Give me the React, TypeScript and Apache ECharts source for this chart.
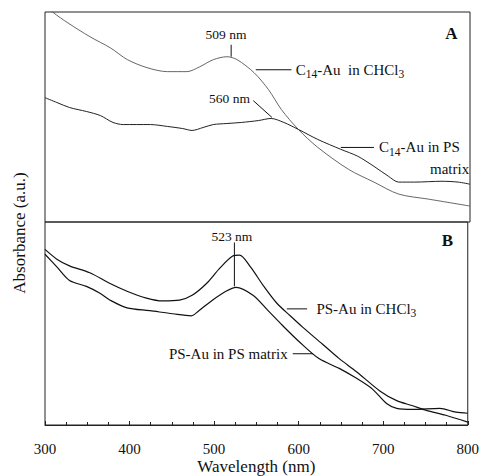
import React, { useEffect, useRef } from "react";
import * as echarts from "echarts";

// Panel A: C14-Au in CHCl3
const wlA1 = [300, 309, 327, 353, 377, 397, 420, 444, 467, 482, 498, 514, 526, 546, 563, 578, 598, 621, 657, 687, 716, 751, 800];
const absA1 = [104, 100, 94.8, 88.2, 82.9, 77.3, 73.5, 71.6, 71.6, 73.9, 77.3, 78.7, 77.3, 71.1, 63.0, 53.6, 44.1, 35.5, 25.1, 19.0, 13.3, 10.9, 7.6];
// Panel A: C14-Au in PS matrix
const wlA2 = [300, 314, 329, 349, 365, 380, 392, 424, 444, 462, 473, 486, 498, 514, 531, 551, 566, 581, 598, 621, 648, 668, 687, 704, 716, 735, 767, 786, 800];
const absA2 = [59.2, 56.9, 54.5, 52.6, 50.7, 47.4, 46.4, 46.4, 45.5, 44.5, 43.6, 45.0, 46.4, 46.9, 47.4, 48.3, 49.3, 47.4, 44.1, 39.3, 34.6, 31.3, 26.5, 21.8, 19.0, 19.0, 19.4, 19.0, 18.0];
// Panel B: PS-Au in CHCl3
const wlB1 = [300, 314, 329, 353, 377, 397, 420, 439, 459, 474, 491, 506, 522, 530, 543, 558, 574, 590, 605, 628, 648, 668, 696, 716, 734, 751, 774, 800];
const absB1 = [86.5, 81.7, 78.4, 75.0, 69.7, 65.9, 62.5, 61.1, 61.5, 63.9, 69.7, 76.9, 83.2, 83.7, 77.9, 68.8, 60.1, 53.8, 48.1, 39.9, 32.7, 26.4, 16.8, 12.0, 9.6, 7.2, 4.8, 1.4];
// Panel B: PS-Au in PS matrix
const wlB2 = [300, 314, 329, 349, 365, 377, 397, 424, 451, 473, 482, 498, 514, 526, 546, 563, 581, 601, 624, 648, 668, 687, 704, 716, 735, 767, 786, 800];
const absB2 = [84.1, 77.9, 71.2, 68.3, 64.9, 61.5, 57.7, 56.3, 54.8, 53.8, 56.3, 61.5, 65.9, 67.8, 63.9, 56.7, 49.0, 40.9, 32.7, 27.9, 23.1, 17.8, 10.6, 8.2, 7.7, 8.2, 6.3, 5.8];

const xTicks = [300, 400, 500, 600, 700, 800];

const FONT = "'Liberation Serif', 'DejaVu Serif', serif";

const zip = (xs: number[], ys: number[]) => xs.map((x, i) => [x, ys[i]]);

export default function App() {
  const ref = useRef<HTMLDivElement>(null);
  useEffect(() => {
    if (!ref.current) return;
    const chart = echarts.init(ref.current, undefined, { renderer: "svg" });
    const yAxisBase = { type: "value", min: 0, max: 100, show: false };
    const xBase = {
      type: "value",
      min: xTicks[0],
      max: xTicks[xTicks.length - 1],
      interval: 100,
      splitLine: { show: false },
    };
    const lineBase = {
      type: "line",
      showSymbol: false,
      smooth: 0.3,
      clip: true,
    };
    chart.setOption({
      animation: false,
      grid: [
        { left: 45, right: 12, top: 12, height: 210, show: true, borderColor: "#222", borderWidth: 1, backgroundColor: "transparent" },
        { left: 45, right: 12, top: 222, height: 209, show: true, borderColor: "#222", borderWidth: 1, backgroundColor: "transparent" },
      ],
      xAxis: [
        { ...xBase, gridIndex: 0, show: false },
        {
          ...xBase,
          gridIndex: 1,
          axisLine: { show: true, lineStyle: { color: "#222", width: 1 } },
          axisTick: { show: true, inside: true, length: 4, lineStyle: { color: "#222" } },
          minorTick: { show: true, splitNumber: 4, length: 3, lineStyle: { color: "#222" } },
          axisLabel: { fontFamily: FONT, fontSize: 15, color: "#111", margin: 16 },
          name: "Wavelength (nm)",
          nameLocation: "middle",
          nameGap: 33,
          nameTextStyle: { fontFamily: FONT, fontSize: 17, color: "#111" },
        },
      ],
      yAxis: [
        { ...yAxisBase, gridIndex: 0 },
        { ...yAxisBase, gridIndex: 1 },
      ],
      series: [
        { ...lineBase, name: "C14-Au in CHCl3", xAxisIndex: 0, yAxisIndex: 0, data: zip(wlA1, absA1), lineStyle: { color: "#555", width: 0.9 } },
        { ...lineBase, name: "C14-Au in PS matrix", xAxisIndex: 0, yAxisIndex: 0, data: zip(wlA2, absA2), lineStyle: { color: "#222", width: 1 } },
        { ...lineBase, name: "PS-Au in CHCl3", xAxisIndex: 1, yAxisIndex: 1, data: zip(wlB1, absB1), lineStyle: { color: "#111", width: 1.2 } },
        { ...lineBase, name: "PS-Au in PS matrix", xAxisIndex: 1, yAxisIndex: 1, data: zip(wlB2, absB2), lineStyle: { color: "#111", width: 1.2 } },
      ],
    });

    const P = (g: number, x: number, y: number) => chart.convertToPixel({ gridIndex: g } as any, [x, y]) as number[];
    const txt = (g: number, x: number, y: number, text: string, align: string, size = 13, weight = "normal", rich?: any) => {
      const p = P(g, x, y);
      return {
        type: "text",
        x: p[0],
        y: p[1],
        style: {
          text,
          fontFamily: FONT,
          fontSize: size,
          fontWeight: weight,
          fill: "#111",
          align,
          verticalAlign: "middle",
          textAlign: align,
          textVerticalAlign: "middle",
          rich,
        },
      };
    };
    const ln = (g: number, x1: number, y1: number, x2: number, y2: number) => {
      const a = P(g, x1, y1);
      const b = P(g, x2, y2);
      return { type: "line", shape: { x1: a[0], y1: a[1], x2: b[0], y2: b[1] }, style: { stroke: "#111", lineWidth: 1 } };
    };
    const rich = {
      n: { fontFamily: FONT, fontSize: 15, fill: "#111", color: "#111" },
      s: { fontFamily: FONT, fontSize: 11.5, fill: "#111", color: "#111", padding: [9, 0, 0, 0] },
    };
    chart.setOption({
      graphic: [
        txt(0, 513, 89.5, "509 nm", "center", 13.5),
        ln(0, 519, 84.4, 519, 78.7),
        ln(0, 548, 72.5, 590, 72.5),
        txt(0, 595, 72.5, "{n|C}{s|14}{n|-Au  in CHCl}{s|3}", "left", 15, "normal", rich),
        txt(0, 517, 58.8, "560 nm", "center", 13.5),
        ln(0, 545, 57.8, 567, 49.8),
        ln(0, 648, 35.5, 687, 35.5),
        txt(0, 693, 35.5, "{n|C}{s|14}{n|-Au in PS}", "left", 15, "normal", rich),
        txt(0, 799, 25.1, "matrix", "right", 15),
        txt(0, 778, 90, "A", "center", 17, "bold"),
        txt(1, 521, 92.8, "523 nm", "center", 13.5),
        ln(1, 524, 89.9, 524, 68.3),
        ln(1, 586, 57.2, 610, 57.2),
        txt(1, 621, 57.2, "{n|PS-Au in CHCl}{s|3}", "left", 15, "normal", rich),
        txt(1, 587, 35.1, "PS-Au in PS matrix", "right", 15),
        ln(1, 593, 35.1, 617, 35.1),
        txt(1, 776, 90.9, "B", "center", 17, "bold"),
        {
          type: "text",
          x: 19,
          y: 233,
          rotation: Math.PI / 2,
          style: {
            text: "Absorbance (a.u.)",
            fontFamily: FONT,
            fontSize: 17,
            fill: "#111",
            align: "center",
            verticalAlign: "middle",
            textAlign: "center",
            textVerticalAlign: "middle",
          },
        },
      ],
    });
    return () => chart.dispose();
  }, []);
  return <div ref={ref} style={{ position: "fixed", left: 0, top: 0, width: 482, height: 476, background: "#fff" }} />;
}
